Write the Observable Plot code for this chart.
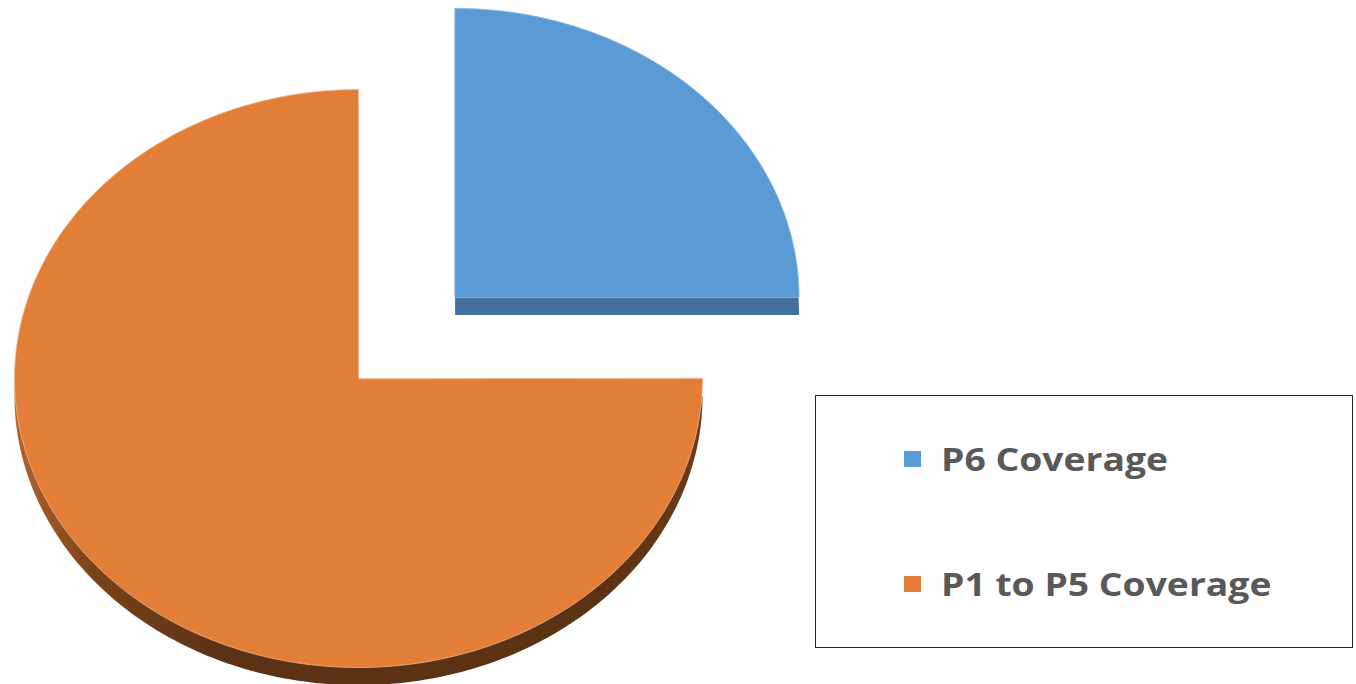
<!DOCTYPE html>
<html>
<head>
<meta charset="utf-8">
<script src="https://cdn.jsdelivr.net/npm/d3@7"></script>
<script src="https://cdn.jsdelivr.net/npm/@observablehq/plot@0.6"></script>
<style>
  html, body { margin: 0; padding: 0; background: #fff; }
  #wrap { position: relative; width: 1356px; height: 684px; overflow: hidden; }
  #legend {
    position: absolute; left: 815px; top: 395px; width: 538px; height: 253px;
    border: 1.5px solid #262626; box-sizing: border-box; background: #fff;
    font-family: "Open Sans", sans-serif; font-weight: 700; color: #595959; font-size: 33px;
  }
  .item { position: absolute; left: 88px; display: flex; align-items: center; white-space: nowrap; }
  .sw { width: 17px; height: 16px; margin-right: 20px; }
  .tx { display: inline-block; transform: scaleX(1.13); transform-origin: left center; }
</style>
</head>
<body>
<div id="wrap"></div>
<script>
// Data
const categories = ["P6 Coverage", "P1 to P5 Coverage"];
const values = [25, 75];
const faceColors = ["#5B9BD5", "#E27E38"];
const sideColors = ["#41719C", "url(#sideGrad)"];

// Geometry in unit-circle data space (y up), blue slice exploded
const explode = [0.397, 0];
const depth = 0.061;
const total = d3.sum(values);
const faces = [];
const sides = [];
let start = 0;
values.forEach((v, i) => {
  const a0 = start, a1 = start + (v / total) * 2 * Math.PI;
  start = a1;
  const mid = (a0 + a1) / 2;
  const ox = explode[i] * Math.cos(mid), oy = explode[i] * Math.sin(mid);
  const n = 240;
  const pts = [{x: ox, y: oy}];
  for (let k = 0; k <= n; k++) {
    const a = a0 + (a1 - a0) * k / n;
    pts.push({x: ox + Math.cos(a), y: oy + Math.sin(a)});
  }
  pts.forEach(p => {
    faces.push({cat: categories[i], idx: i, x: p.x, y: p.y});
    sides.push({cat: categories[i], idx: i, x: p.x, y: p.y - depth});
  });
});

const marks = [];
categories.forEach((c, i) => {
  marks.push(Plot.line(sides.filter(d => d.idx === i), {
    x: "x", y: "y", fill: sideColors[i], stroke: "none", curve: "linear-closed"
  }));
});
categories.forEach((c, i) => {
  marks.push(Plot.line(faces.filter(d => d.idx === i), {
    x: "x", y: "y", fill: faceColors[i], stroke: i === 0 ? "#8fbbe3" : "#f0b78e",
    strokeWidth: 0.8, curve: "linear-closed"
  }));
});

const cx = 358, cy = 378, rx = 344, ry = 289, W = 1356, H = 684;
const chart = Plot.plot({
  width: W, height: H, margin: 0,
  x: {domain: [-cx / rx, (W - cx) / rx], axis: null},
  y: {domain: [-(H - cy) / ry, cy / ry], axis: null},
  marks
});

const ns = "http://www.w3.org/2000/svg";
const defs = document.createElementNS(ns, "defs");
defs.innerHTML = `<linearGradient id="sideGrad" gradientUnits="userSpaceOnUse" x1="10" y1="0" x2="710" y2="0">
  <stop offset="0" stop-color="#b8652c"/>
  <stop offset="0.12" stop-color="#7a4219"/>
  <stop offset="0.3" stop-color="#5c3215"/>
  <stop offset="0.85" stop-color="#5c3215"/>
  <stop offset="1" stop-color="#6e3c18"/>
</linearGradient>`;
chart.insertBefore(defs, chart.firstChild);

const wrap = document.getElementById("wrap");
wrap.appendChild(chart);

const legend = document.createElement("div");
legend.id = "legend";
const tops = [40, 165];
categories.forEach((c, i) => {
  const it = document.createElement("div");
  it.className = "item";
  it.style.top = tops[i] + "px";
  const sw = document.createElement("div");
  sw.className = "sw";
  sw.style.background = faceColors[i];
  const tx = document.createElement("span");
  tx.className = "tx";
  tx.textContent = c;
  it.appendChild(sw);
  it.appendChild(tx);
  legend.appendChild(it);
});
wrap.appendChild(legend);
</script>
</body>
</html>
